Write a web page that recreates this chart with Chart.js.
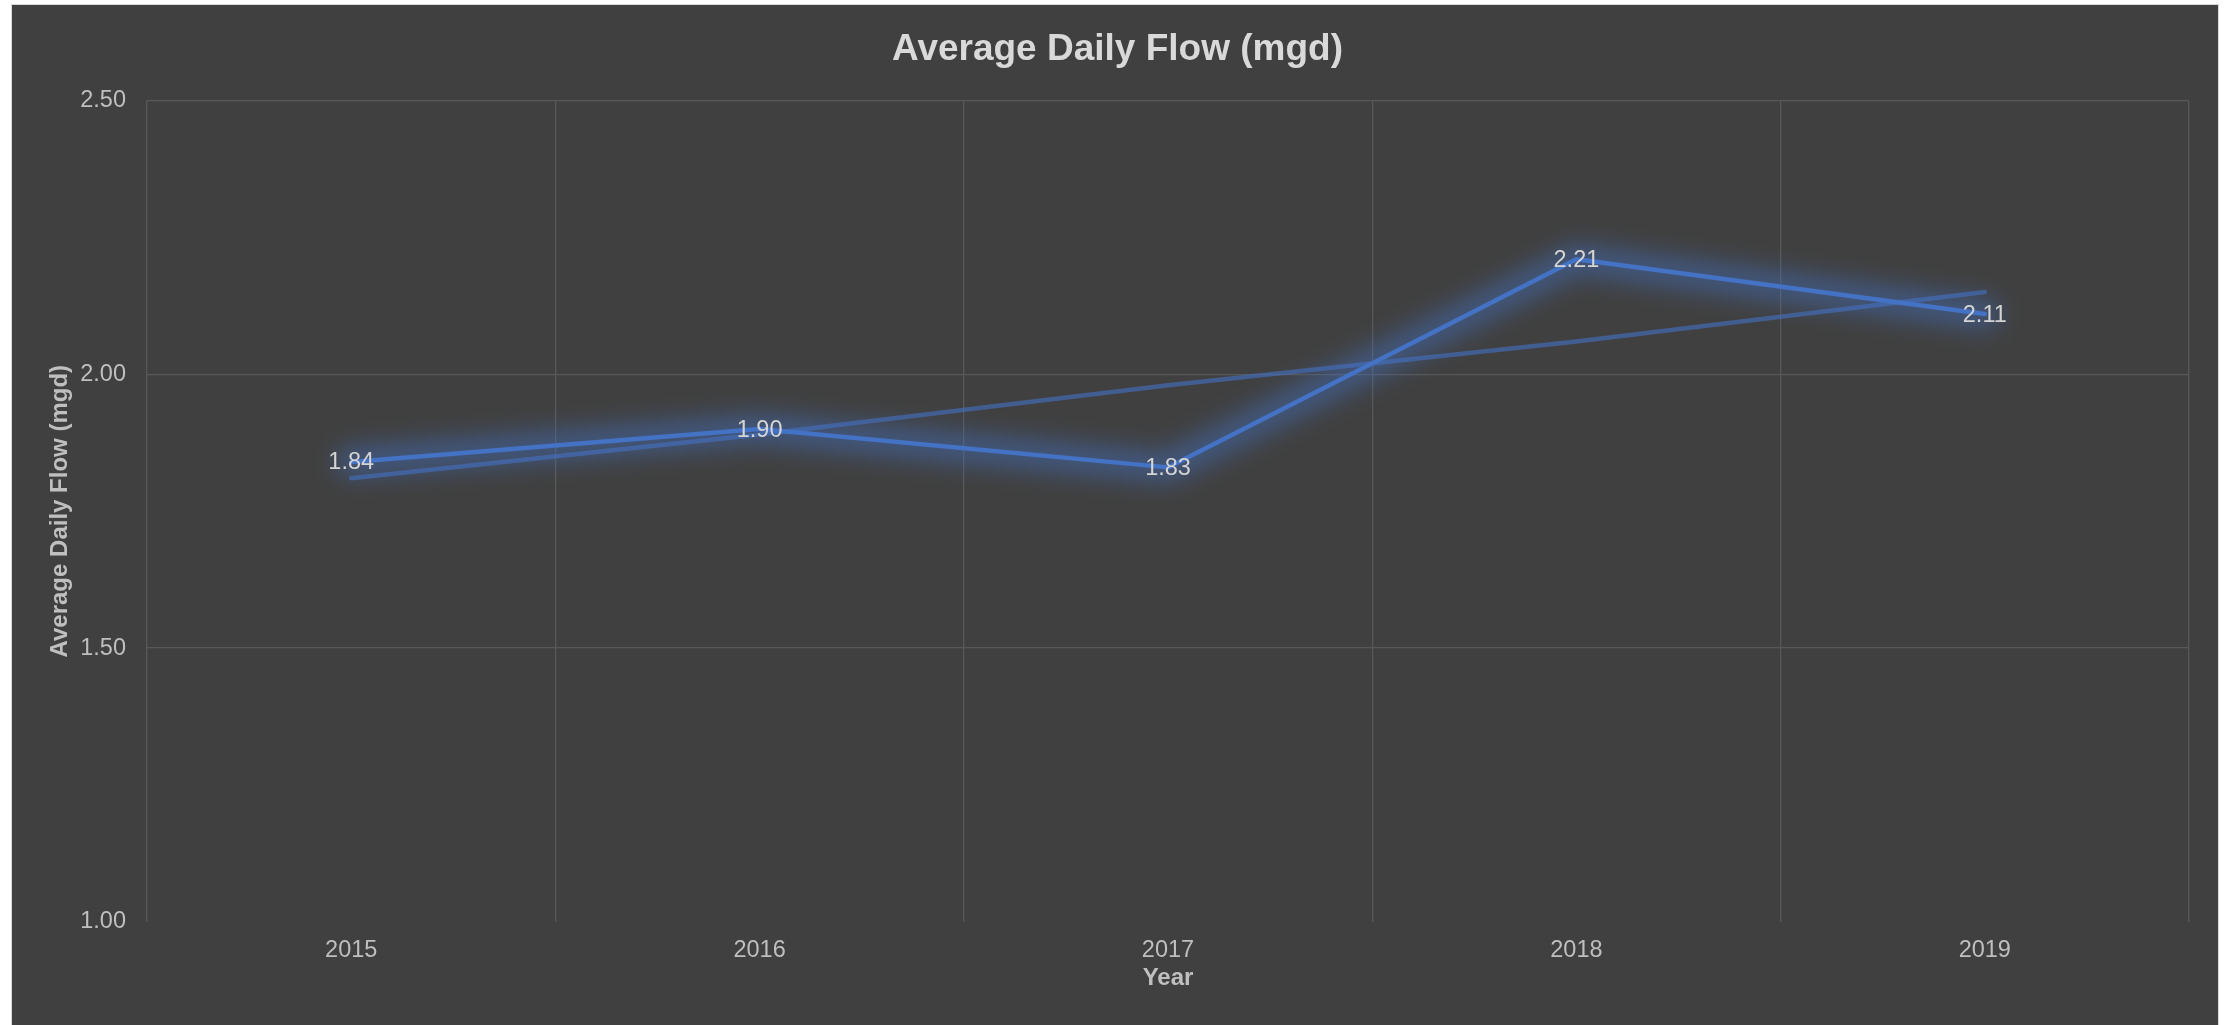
<!DOCTYPE html>
<html><head><meta charset="utf-8">
<script src="https://cdn.jsdelivr.net/npm/chart.js@4.4.1/dist/chart.umd.min.js"></script>
<style>
html,body{margin:0;padding:0;background:#fff;width:2231px;height:1025px;overflow:hidden;}
#panel{position:absolute;left:11px;top:4px;width:2206px;height:1030px;border:1px solid #d9d9d9;background:#404040;}
#c{display:block;}
</style></head><body>
<div id="panel"><canvas id="c" width="2206" height="1020"></canvas></div>
<script>
// Data
const years = ['2015', '2016', '2017', '2018', '2019'];
const flow = [1.84, 1.90, 1.83, 2.21, 2.11];
const trend = [1.81, 1.89, 1.98, 2.06, 2.15];
const yMin = 1.00, yMax = 2.50, yStep = 0.50;

const FONT = "'Liberation Sans', Arial, sans-serif";

// soft blue glow under the main series, following the library's own points
const glow = {
  id: 'glow',
  beforeDatasetDraw(chart, args) {
    if (args.index !== 0) return;
    const pts = args.meta.data;
    const c = chart.ctx;
    c.save();
    c.filter = 'blur(12px)';
    c.strokeStyle = 'rgba(68,114,196,0.5)';
    c.lineWidth = 30;
    c.lineJoin = 'round'; c.lineCap = 'round';
    c.beginPath();
    pts.forEach((p, i) => i ? c.lineTo(p.x, p.y) : c.moveTo(p.x, p.y));
    c.stroke();
    c.restore();
  }
};

const labels = {
  id: 'valueLabels',
  afterDatasetsDraw(chart) {
    const meta = chart.getDatasetMeta(0);
    const c = chart.ctx;
    c.save();
    c.font = '23.5px ' + FONT;
    c.fillStyle = '#d4d4d4';
    c.textAlign = 'center';
    c.textBaseline = 'middle';
    meta.data.forEach((el, i) => {
      c.fillText(chart.data.datasets[0].data[i].toFixed(2), el.x, el.y + 1);
    });
    c.restore();
  }
};

new Chart(document.getElementById('c'), {
  type: 'line',
  data: {
    labels: years,
    datasets: [
      { label: 'Average Daily Flow', data: flow, borderColor: '#4472C4', borderWidth: 4.5,
        pointRadius: 0, tension: 0, borderCapStyle: 'round', borderJoinStyle: 'round', order: 0 },
      { label: 'Trend', data: trend, borderColor: 'rgba(68,114,196,0.6)', borderWidth: 4.5,
        pointRadius: 0, tension: 0, borderCapStyle: 'round', order: 1 }
    ]
  },
  plugins: [glow, labels],
  options: {
    responsive: false,
    devicePixelRatio: 1,
    animation: false,
    layout: { padding: { left: 34, right: 29, top: 0, bottom: 32 } },
    plugins: {
      legend: { display: false },
      tooltip: { enabled: false },
      title: { display: true, text: 'Average Daily Flow (mgd)', color: '#d9d9d9',
        font: { family: FONT, size: 37, weight: 'bold' }, padding: { top: 23, bottom: 28 } }
    },
    scales: {
      x: {
        offset: true,
        afterFit: s => { s.height = 71; },
        grid: { offset: true, color: '#585858', lineWidth: 1.3, drawTicks: false },
        border: { display: false },
        ticks: { color: '#bfbfbf', font: { family: FONT, size: 23.5 }, padding: 14 },
        title: { display: true, text: 'Year', color: '#bfbfbf',
          font: { family: FONT, size: 24, weight: 'bold' }, padding: { top: 1, bottom: 0 } }
      },
      y: {
        min: yMin, max: yMax,
        afterFit: s => { s.width = 101; },
        grid: { color: ctx => (ctx.tick && ctx.tick.value === yMin) ? 'rgba(0,0,0,0)' : '#585858',
          lineWidth: 1.3, drawTicks: false },
        border: { display: false },
        ticks: { stepSize: yStep, color: '#bfbfbf', font: { family: FONT, size: 23.5 }, padding: 21,
          callback: v => Number(v).toFixed(2) },
        title: { display: true, text: 'Average Daily Flow (mgd)', color: '#bfbfbf',
          font: { family: FONT, size: 24, weight: 'bold' }, padding: { top: 0, bottom: 0 } }
      }
    }
  }
});
</script>
</body></html>
